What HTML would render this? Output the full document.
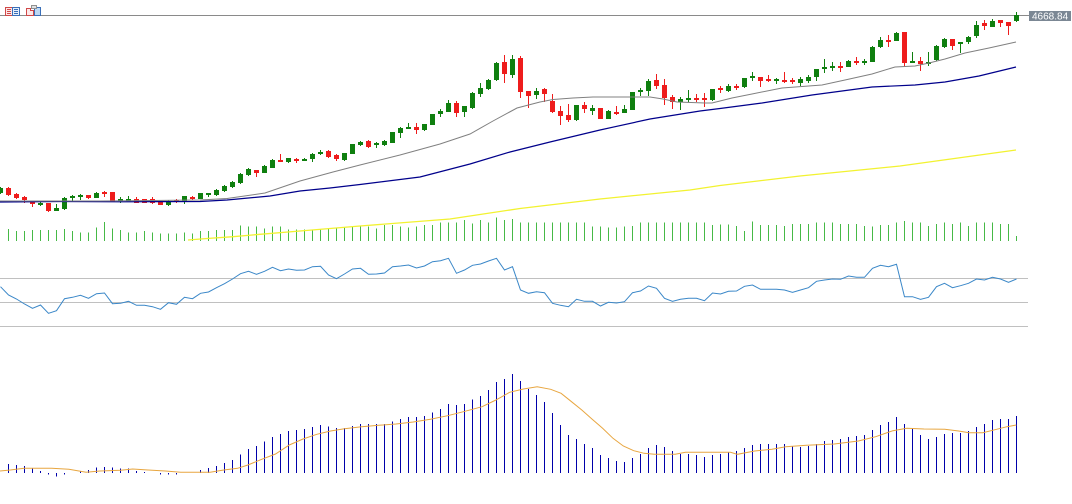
<!DOCTYPE html>
<html>
<head>
<meta charset="utf-8">
<style>
html,body{margin:0;padding:0;background:#fff;}
body{width:1072px;height:504px;overflow:hidden;}
svg{display:block;}
</style>
</head>
<body>
<svg width="1072" height="504" viewBox="0 0 1072 504" xmlns="http://www.w3.org/2000/svg">
<rect x="0" y="0" width="1072" height="504" fill="#ffffff"/>

<!-- top line -->
<path d="M0 15.5H1029" stroke="#8a8a8a" stroke-width="1" shape-rendering="crispEdges"/>

<!-- icons -->
<g shape-rendering="crispEdges">
  <rect x="5.5" y="7.5" width="7" height="8" fill="#fde8e8" stroke="#d04848"/>
  <path d="M7 9.5H11M7 11.5H11M7 13.5H11" stroke="#d04848"/>
  <rect x="12.5" y="7.5" width="7" height="8" fill="#e6effb" stroke="#3a6fb8"/>
  <path d="M14 9.5H18M14 11.5H18M14 13.5H18" stroke="#3a6fb8"/>
  <path d="M26.5 8.5H30.5V10.5H33.5V15.5H26.5Z" fill="#fde8e8" stroke="#d04848"/>
  <rect x="34.5" y="7.5" width="6" height="8" fill="#bcd8f4" stroke="#3a6fb8"/>
  <rect x="31.5" y="5.5" width="5" height="3" fill="#e0e0e0" stroke="#909090"/>
</g>

<!-- price label -->
<rect x="1029" y="11" width="42" height="10" fill="#7b8794"/>
<text x="1032" y="19.5" font-family="Liberation Sans, sans-serif" font-size="10" fill="#ffffff">4668.84</text>

<!-- volume bars -->
<path stroke="#46b946" stroke-width="1" fill="none" shape-rendering="crispEdges" d="
M8.5 241V229 M16.5 241V231 M24.5 241V231 M32.5 241V230 M40.5 241V230 M48.5 241V230 M56.5 241V230 M64.5 241V229
M72.5 241V231 M80.5 241V232.3 M88.5 241V232.3 M96.5 241V227.3 M104.5 241V222 M112.5 241V228.3 M120.5 241V230 M128.5 241V232.3
M136.5 241V232.3 M144.5 241V231 M152.5 241V232.3 M160.5 241V233.3 M168.5 241V233.3 M176.5 241V233.3 M184.5 241V232.3 M192.5 241V233.3
M200.5 241V231 M208.5 241V231 M216.5 241V230 M224.5 241V230 M232.5 241V230 M240.5 241V225.3 M248.5 241V226.7 M256.5 241V226.7
M264.5 241V228.3 M272.5 241V226.7 M280.5 241V226.7 M288.5 241V229.3 M296.5 241V229.3 M304.5 241V229.3 M312.5 241V229.3 M320.5 241V229.3
M328.5 241V228.3 M336.5 241V228.3 M344.5 241V227.3 M352.5 241V226.7 M360.5 241V226 M368.5 241V226.7 M376.5 241V228.3 M384.5 241V225
M392.5 241V225 M400.5 241V226.7 M408.5 241V227.3 M416.5 241V226.7 M424.5 241V225 M432.5 241V225 M440.5 241V222.3 M448.5 241V222.7
M456.5 241V222.7 M464.5 241V220 M472.5 241V223.3 M480.5 241V220 M488.5 241V222.7 M496.5 241V217.7 M504.5 241V220 M512.5 241V219
M520.5 241V222.7 M528.5 241V222.7 M536.5 241V222.7 M544.5 241V222.7 M552.5 241V222.7 M560.5 241V222.7 M568.5 241V222.7 M576.5 241V222.7
M584.5 241V222.7 M592.5 241V226.7 M600.5 241V226.7 M608.5 241V227.7 M616.5 241V227.7 M624.5 241V226.7 M632.5 241V226 M640.5 241V222.7
M648.5 241V222.7 M656.5 241V222.7 M664.5 241V222.7 M672.5 241V222.7 M680.5 241V222.7 M688.5 241V222.7 M696.5 241V222.7 M704.5 241V222.7
M712.5 241V225 M720.5 241V224.3 M728.5 241V224.3 M736.5 241V226 M744.5 241V231 M752.5 241V221.7 M760.5 241V225 M768.5 241V225
M776.5 241V225 M784.5 241V226 M792.5 241V224 M800.5 241V224 M808.5 241V224 M816.5 241V222.7 M824.5 241V222.7 M832.5 241V222.7
M840.5 241V224 M848.5 241V224 M856.5 241V224 M864.5 241V226 M872.5 241V226.7 M880.5 241V225 M888.5 241V225 M896.5 241V222.7
M904.5 241V221 M912.5 241V222.7 M920.5 241V222.7 M928.5 241V226 M936.5 241V224 M944.5 241V222.7 M952.5 241V224 M960.5 241V222.7
M968.5 241V226 M976.5 241V222.7 M984.5 241V222.7 M992.5 241V222.7 M1000.5 241V224 M1008.5 241V224 M1016.5 241V236"/>

<!-- candles: green -->
<path stroke="#0f7f0f" stroke-width="1" fill="none" shape-rendering="crispEdges" d="M0.5 187V194 M40.5 201V206 M56.5 204V211 M64.5 197V210 M72.5 195V201 M80.5 194V200 M96.5 192V198 M120.5 197V203 M128.5 196V201 M168.5 200V206 M184.5 196V204 M200.5 193V199 M208.5 193V197 M216.5 189V196 M224.5 185V192 M232.5 181V188 M240.5 173V184 M248.5 168V176 M264.5 165V173 M272.5 159V168 M288.5 158V163 M304.5 158V161 M312.5 153V162 M320.5 150V155 M344.5 153V161 M352.5 144V154 M360.5 141V146 M376.5 142V148 M384.5 140V146 M392.5 132V143 M400.5 127V138 M408.5 123V129 M424.5 124V131 M432.5 114V125 M440.5 109V117 M448.5 100V112 M464.5 106V117 M472.5 92V109 M480.5 83V97 M488.5 79V90 M496.5 62V81 M512.5 55V78 M536.5 88V99 M576.5 105V121 M592.5 105V115 M608.5 110V119 M624.5 105V113 M632.5 92V110 M640.5 88V96 M648.5 79V96 M680.5 97V110 M688.5 90V102 M712.5 89V101 M728.5 84V92 M744.5 78V88 M752.5 72V81 M776.5 78V84 M800.5 77V86 M808.5 75V83 M816.5 69V81 M824.5 59V73 M832.5 62V71 M848.5 60V67 M864.5 59V65 M872.5 46V62 M880.5 37V48 M896.5 32V41 M912.5 52V63 M928.5 52V66 M936.5 45V61 M944.5 38V48 M960.5 42V53 M968.5 36V44 M976.5 21V38 M992.5 19V27 M1016.5 12V22"/>
<g fill="#0f7f0f" shape-rendering="crispEdges">
<rect x="-2" y="188" width="5" height="5"/><rect x="38" y="203" width="5" height="2"/><rect x="54" y="208" width="5" height="3"/><rect x="62" y="198" width="5" height="11"/>
<rect x="70" y="196" width="5" height="2"/><rect x="78" y="195" width="5" height="2"/><rect x="94" y="193" width="5" height="5"/><rect x="118" y="199" width="5" height="2"/>
<rect x="126" y="199" width="5" height="2"/><rect x="166" y="201" width="5" height="4"/><rect x="182" y="196" width="5" height="5"/><rect x="198" y="193" width="5" height="6"/>
<rect x="206" y="193" width="5" height="2"/><rect x="214" y="190" width="5" height="5"/><rect x="222" y="186" width="5" height="5"/><rect x="230" y="182" width="5" height="5"/>
<rect x="238" y="174" width="5" height="9"/><rect x="246" y="169" width="5" height="6"/><rect x="262" y="166" width="5" height="7"/><rect x="270" y="160" width="5" height="8"/>
<rect x="286" y="158" width="5" height="4"/><rect x="302" y="159" width="5" height="2"/><rect x="310" y="154" width="5" height="5"/><rect x="318" y="152" width="5" height="2"/>
<rect x="342" y="153" width="5" height="7"/><rect x="350" y="144" width="5" height="10"/><rect x="358" y="142" width="5" height="3"/><rect x="374" y="143" width="5" height="2"/>
<rect x="382" y="141" width="5" height="4"/><rect x="390" y="132" width="5" height="11"/><rect x="398" y="128" width="5" height="5"/><rect x="406" y="127" width="5" height="2"/>
<rect x="422" y="124" width="5" height="6"/><rect x="430" y="114" width="5" height="11"/><rect x="438" y="111" width="5" height="3"/><rect x="446" y="103" width="5" height="9"/>
<rect x="462" y="106" width="5" height="6"/><rect x="470" y="93" width="5" height="15"/><rect x="478" y="88" width="5" height="6"/><rect x="486" y="80" width="5" height="9"/>
<rect x="494" y="63" width="5" height="17"/><rect x="510" y="59" width="5" height="16"/><rect x="534" y="91" width="5" height="4"/><rect x="574" y="105" width="5" height="15"/>
<rect x="590" y="108" width="5" height="3"/><rect x="606" y="111" width="5" height="8"/><rect x="622" y="109" width="5" height="4"/><rect x="630" y="92" width="5" height="18"/>
<rect x="638" y="90" width="5" height="2"/><rect x="646" y="81" width="5" height="10"/><rect x="678" y="99" width="5" height="3"/><rect x="686" y="98" width="5" height="2"/>
<rect x="710" y="89" width="5" height="11"/><rect x="726" y="86" width="5" height="5"/><rect x="742" y="78" width="5" height="9"/><rect x="750" y="76" width="5" height="2"/>
<rect x="774" y="79" width="5" height="2"/><rect x="798" y="79" width="5" height="4"/><rect x="806" y="77" width="5" height="4"/><rect x="814" y="69" width="5" height="8"/>
<rect x="822" y="67" width="5" height="2"/><rect x="830" y="66" width="5" height="2"/><rect x="846" y="61" width="5" height="6"/><rect x="862" y="61" width="5" height="2"/>
<rect x="870" y="47" width="5" height="15"/><rect x="878" y="40" width="5" height="7"/><rect x="894" y="33" width="5" height="8"/><rect x="910" y="61" width="5" height="2"/>
<rect x="926" y="62" width="5" height="2"/><rect x="934" y="46" width="5" height="14"/><rect x="942" y="39" width="5" height="8"/><rect x="958" y="42" width="5" height="2"/>
<rect x="966" y="37" width="5" height="5"/><rect x="974" y="25" width="5" height="11"/><rect x="990" y="21" width="5" height="6"/><rect x="1014" y="15" width="5" height="6"/>
</g>

<!-- candles: red -->
<path stroke="#ee1c1c" stroke-width="1" fill="none" shape-rendering="crispEdges" d="M8.5 187V196 M16.5 193V199 M24.5 196V203 M32.5 201V207 M48.5 203V212 M88.5 195V199 M104.5 191V197 M112.5 192V202 M136.5 197V203 M144.5 199V203 M152.5 197V204 M160.5 201V205 M176.5 199V203 M192.5 196V200 M256.5 170V177 M280.5 154V162 M296.5 158V163 M328.5 150V158 M336.5 154V161 M368.5 140V148 M416.5 123V134 M456.5 101V117 M504.5 55V83 M520.5 56V98 M528.5 91V108 M544.5 88V102 M552.5 94V113 M560.5 106V125 M568.5 104V122 M584.5 102V113 M600.5 108V119 M616.5 106V115 M656.5 74V89 M664.5 79V105 M672.5 95V109 M696.5 94V102 M704.5 93V107 M720.5 86V93 M736.5 84V90 M760.5 77V87 M768.5 75V82 M784.5 72V83 M792.5 78V84 M840.5 62V72 M856.5 57V65 M888.5 35V47 M904.5 32V66 M920.5 57V71 M952.5 39V50 M984.5 20V30 M1000.5 20V27 M1008.5 22V35"/>
<g fill="#ee1c1c" shape-rendering="crispEdges">
<rect x="6" y="188" width="5" height="7"/><rect x="14" y="194" width="5" height="4"/><rect x="22" y="197" width="5" height="3"/><rect x="30" y="202" width="5" height="2"/>
<rect x="46" y="203" width="5" height="8"/><rect x="86" y="195" width="5" height="3"/><rect x="102" y="192" width="5" height="2"/><rect x="110" y="192" width="5" height="10"/>
<rect x="134" y="199" width="5" height="4"/><rect x="142" y="199" width="5" height="4"/><rect x="150" y="199" width="5" height="4"/><rect x="158" y="201" width="5" height="4"/>
<rect x="174" y="200" width="5" height="2"/><rect x="190" y="197" width="5" height="2"/><rect x="254" y="170" width="5" height="3"/><rect x="278" y="160" width="5" height="2"/>
<rect x="294" y="159" width="5" height="2"/><rect x="326" y="151" width="5" height="6"/><rect x="334" y="155" width="5" height="4"/><rect x="366" y="141" width="5" height="6"/>
<rect x="414" y="127" width="5" height="3"/><rect x="454" y="103" width="5" height="10"/><rect x="502" y="62" width="5" height="12"/><rect x="518" y="58" width="5" height="34"/>
<rect x="526" y="91" width="5" height="5"/><rect x="542" y="89" width="5" height="5"/><rect x="550" y="101" width="5" height="11"/><rect x="558" y="111" width="5" height="5"/>
<rect x="566" y="115" width="5" height="5"/><rect x="582" y="105" width="5" height="4"/><rect x="598" y="108" width="5" height="11"/><rect x="614" y="112" width="5" height="2"/>
<rect x="654" y="80" width="5" height="6"/><rect x="662" y="85" width="5" height="13"/><rect x="670" y="97" width="5" height="5"/><rect x="694" y="98" width="5" height="2"/>
<rect x="702" y="98" width="5" height="2"/><rect x="718" y="88" width="5" height="2"/><rect x="734" y="86" width="5" height="2"/><rect x="758" y="77" width="5" height="4"/>
<rect x="766" y="79" width="5" height="2"/><rect x="782" y="80" width="5" height="2"/><rect x="790" y="80" width="5" height="2"/><rect x="838" y="66" width="5" height="2"/>
<rect x="854" y="61" width="5" height="2"/><rect x="886" y="40" width="5" height="2"/><rect x="902" y="32" width="5" height="31"/><rect x="918" y="61" width="5" height="3"/>
<rect x="950" y="39" width="5" height="7"/><rect x="982" y="23" width="5" height="3"/><rect x="998" y="20" width="5" height="3"/><rect x="1006" y="22" width="5" height="4"/>
</g>

<!-- moving averages -->
<polyline fill="none" stroke="#f2f230" stroke-width="1.3" points="188,240 207,238.5 233,236.7 260,234.3 300,231 360,226 450,219 520,208.5 600,199 690,190 720,185.5 800,176 900,166 1016,150"/>
<polyline fill="none" stroke="#00008b" stroke-width="1.2" points="0,202 60,201.5 120,201.8 200,201.5 227,200 270,196 300,191 330,188 360,184.5 420,177 470,164 510,152 550,142 600,130 650,119 700,111 720,108.5 762,103 812,95 872,87 915,85 945,82 979,76 1016,67"/>
<polyline fill="none" stroke="#808080" stroke-width="1" points="0,201 100,201 200,200 227,198.5 265,193 300,181 333,172 360,165 400,155 440,144 470,134 493,121 517,108 540,102 553,99.5 573,98 593,97 650,97 663,99 677,102 705,103 712,103 732,98 752,94 782,88 822,85 845,80 872,74 895,67 915,66 929,63 945,59 965,53 989,48 1016,42"/>

<!-- RSI panel -->
<path d="M0 278.5H1028M0 302.5H1028M0 326.5H1028" stroke="#c0c0c0" stroke-width="1" shape-rendering="crispEdges"/>
<polyline fill="none" stroke="#3a87c8" stroke-width="1" points="0.5,286.7 8.5,295 16.5,299 24.5,304 32.5,308.3 40.5,305 48.5,313.3 56.5,310.7 64.5,298.7 72.5,297.3 80.5,295.3 88.5,298.3 96.5,293.7 104.5,293 112.5,303.7 120.5,303.3 128.5,301.3 136.5,305.3 144.5,305.3 152.5,306.7 160.5,309.3 168.5,302.7 176.5,304.3 184.5,297.3 192.5,298.7 200.5,293.3 208.5,292 216.5,287.7 224.5,283.7 232.5,279 240.5,273.7 248.5,271.3 256.5,274.3 264.5,271.3 272.5,267.3 280.5,270.7 288.5,269 296.5,270.3 304.5,270 312.5,266.7 320.5,266.3 328.5,275 336.5,278.7 344.5,274 352.5,269 360.5,268.3 368.5,274.3 376.5,274 384.5,273 392.5,266.7 400.5,266 408.5,265 416.5,268 424.5,266 432.5,261.7 440.5,260.7 448.5,258.3 456.5,273.3 464.5,270 472.5,265.3 480.5,264 488.5,261 496.5,258.3 504.5,270 512.5,266.7 520.5,290 528.5,293.3 536.5,291.7 544.5,292.7 552.5,303.3 560.5,305.3 568.5,306.7 576.5,299.3 584.5,301.3 592.5,301.3 600.5,306 608.5,302.3 616.5,303 624.5,301.7 632.5,292.7 640.5,291 648.5,286 656.5,288.3 664.5,298.3 672.5,301.3 680.5,299.3 688.5,298.3 696.5,298.3 704.5,300.7 712.5,293 720.5,294 728.5,291.3 736.5,291 744.5,286.3 752.5,285 760.5,289.3 768.5,289.3 776.5,289.3 784.5,290 792.5,292.3 800.5,290 808.5,287.7 816.5,281.3 824.5,280 832.5,279 840.5,279.3 848.5,276 856.5,277.3 864.5,277.3 872.5,268.3 880.5,265.3 888.5,266.7 896.5,264.3 904.5,296.7 912.5,296.7 920.5,299.3 928.5,297.3 936.5,286.7 944.5,283.3 952.5,287.7 960.5,285.7 968.5,283.3 976.5,279 984.5,280 992.5,277.3 1000.5,279 1008.5,282.3 1016.5,279"/>

<!-- MACD histogram -->
<path stroke="#0000aa" stroke-width="1" fill="none" shape-rendering="crispEdges" d="
M8.5 473V464 M16.5 473V465 M24.5 473V466 M32.5 473V468.3 M40.5 473V471 M48.5 473V474.5 M56.5 473V476.5 M64.5 473V474.5
M80.5 473V471.7 M88.5 473V470 M96.5 473V467.7 M104.5 473V467 M112.5 473V467.7 M120.5 473V468.7 M128.5 473V468.7
M136.5 473V471 M144.5 473V472 M160.5 473V474.5 M168.5 473V474.5 M176.5 473V474.5
M200.5 473V470 M208.5 473V468 M216.5 473V466 M224.5 473V463 M232.5 473V460 M240.5 473V454.3 M248.5 473V449 M256.5 473V446
M264.5 473V441.7 M272.5 473V437 M280.5 473V434 M288.5 473V431 M296.5 473V430 M304.5 473V429 M312.5 473V427 M320.5 473V425
M328.5 473V426.3 M336.5 473V428 M344.5 473V428 M352.5 473V426 M360.5 473V424 M368.5 473V424 M376.5 473V424 M384.5 473V424
M392.5 473V421.3 M400.5 473V419 M408.5 473V417 M416.5 473V417 M424.5 473V416 M432.5 473V412.3 M440.5 473V409 M448.5 473V404
M456.5 473V405 M464.5 473V404 M472.5 473V399.3 M480.5 473V396 M488.5 473V390 M496.5 473V382 M504.5 473V379 M512.5 473V374
M520.5 473V381 M528.5 473V389 M536.5 473V395 M544.5 473V402 M552.5 473V413 M560.5 473V425 M568.5 473V435 M576.5 473V439
M584.5 473V444 M592.5 473V448 M600.5 473V455 M608.5 473V458 M616.5 473V461 M624.5 473V462 M632.5 473V458 M640.5 473V454
M648.5 473V448 M656.5 473V445 M664.5 473V447 M672.5 473V451 M680.5 473V454 M688.5 473V454 M696.5 473V455 M704.5 473V457
M712.5 473V455 M720.5 473V454 M728.5 473V452 M736.5 473V451 M744.5 473V448 M752.5 473V445 M760.5 473V444 M768.5 473V444
M776.5 473V444 M784.5 473V444 M792.5 473V446 M800.5 473V447 M808.5 473V446 M816.5 473V444 M824.5 473V441 M832.5 473V440
M840.5 473V439 M848.5 473V437 M856.5 473V436 M864.5 473V435 M872.5 473V430 M880.5 473V425 M888.5 473V422 M896.5 473V417
M904.5 473V424 M912.5 473V429 M920.5 473V435 M928.5 473V439 M936.5 473V437 M944.5 473V434 M952.5 473V433 M960.5 473V433
M968.5 473V431 M976.5 473V427 M984.5 473V424 M992.5 473V420 M1000.5 473V419 M1008.5 473V419 M1016.5 473V416"/>

<!-- MACD signal -->
<polyline fill="none" stroke="#e8a640" stroke-width="1" points="0,471 10.3,470 24.1,468.3 51.7,468.3 68.9,469.3 86.1,472.3 99.9,471 120.5,470.3 132.6,469 148.1,470 165.3,471 180.8,472.3 210.1,472.3 223.8,470 237.6,468.3 247.9,465 261.7,459.3 275.5,454 289.3,445 303,439 316.8,434.3 330.6,431 344.4,428.7 361.6,426.7 378.8,425.3 396,424 413.2,422 430.4,419.3 447.7,415.7 464.9,411.3 482.1,406.7 495.9,400 509.6,392.3 523.4,389 537.2,386.7 550.7,389.3 561.1,393.3 571.5,401.7 581.8,410 592.2,419.3 602.6,428.3 613,438.3 623.3,446 633.7,450.7 644.1,453.3 654.4,454.3 675.2,454.3 685.5,452.3 730.5,452.3 737.4,454.3 754.7,451 772,449.3 785.8,446.7 806.5,445.3 834.2,444 858.4,441 875.7,436.7 892.9,430.7 906.8,428.3 924,429 944.8,429.3 958.6,431 969,432.7 982.8,432.7 996.6,429.3 1007,426.7 1016.3,425"/>
</svg>
</body>
</html>
